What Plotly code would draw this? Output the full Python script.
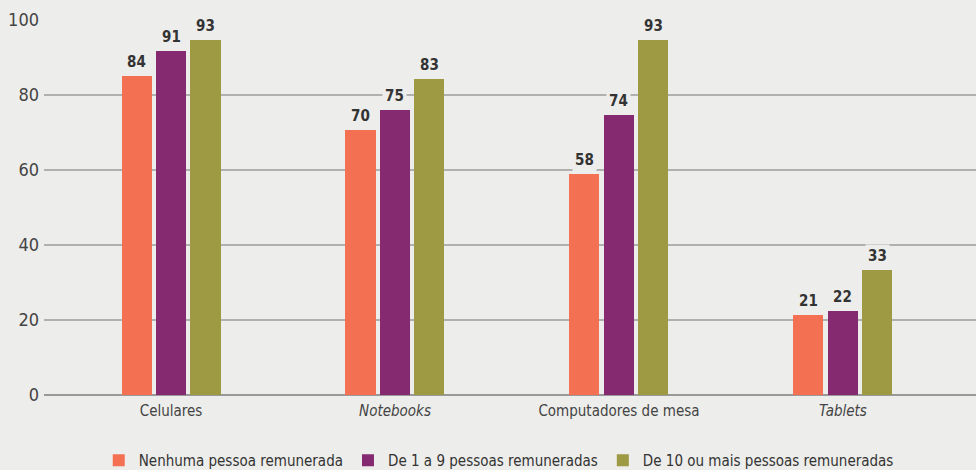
import plotly.graph_objects as go

categorias = ["Celulares", "<i>Notebooks</i>", "Computadores de mesa", "<i>Tablets</i>"]
series = ["Nenhuma pessoa remunerada", "De 1 a 9 pessoas remuneradas", "De 10 ou mais pessoas remuneradas"]
cores = ["#f47053", "#852a71", "#9e9943"]

# bar heights as drawn in the picture
alturas_nenhuma = [85.1, 70.7, 59.0, 21.4]
alturas_1a9 = [91.8, 76.1, 74.7, 22.5]
alturas_10mais = [94.7, 84.3, 94.7, 33.4]
# printed value labels
rotulos_nenhuma = ["84", "70", "58", "21"]
rotulos_1a9 = ["91", "75", "74", "22"]
rotulos_10mais = ["93", "83", "93", "33"]

y_ticks = [0, 20, 40, 60, 80, 100]

alturas = [alturas_nenhuma, alturas_1a9, alturas_10mais]
rotulos = [rotulos_nenhuma, rotulos_1a9, rotulos_10mais]

FONT = "DejaVu Sans Condensed, Liberation Sans Narrow, Roboto, sans-serif"
BG = "#ededeb"
slot = 0.154
bar_w = 0.134
idx = list(range(len(categorias)))

fig = go.Figure()
annotations = []
for k in range(3):
    xs = [i + (k - 1) * slot for i in idx]
    fig.add_trace(go.Bar(
        x=xs, y=alturas[k], width=bar_w, name=series[k],
        marker=dict(color=cores[k], line=dict(width=0)),
        hoverinfo="skip",
    ))
    for x, h, t in zip(xs, alturas[k], rotulos[k]):
        annotations.append(dict(
            x=x, y=h, text="<b>" + t + "</b>", showarrow=False,
            yanchor="bottom", xanchor="center", yshift=2,
            bgcolor=BG, borderpad=2,
            font=dict(family=FONT, size=15, color="#333333"),
        ))

xrange = [-0.567, 3.594]
fig.update_layout(
    width=976, height=470,
    margin=dict(l=44, r=0, t=20, b=75),
    paper_bgcolor=BG, plot_bgcolor=BG,
    showlegend=True,
    legend=dict(orientation="h", xref="container", yref="container",
                x=0.511, xanchor="center", y=0.02, yanchor="middle",
                font=dict(family=FONT, size=15, color="#333333"),
                itemwidth=30, traceorder="normal", bgcolor="rgba(0,0,0,0)"),
    annotations=annotations,
    xaxis=dict(range=xrange, tickmode="array", tickvals=idx, ticktext=categorias,
               showgrid=False, zeroline=False, showline=False, ticks="",
               ticklabelstandoff=5,
               tickfont=dict(family=FONT, size=15, color="#444444"), fixedrange=True),
    xaxis2=dict(range=xrange, overlaying="x", anchor="free", position=0.0133, side="bottom",
                tickmode="array", tickvals=[0.5, 1.5, 2.5], showticklabels=False,
                ticks="outside", ticklen=15, tickwidth=1.5, tickcolor="#a0a0a0",
                showgrid=False, zeroline=False, showline=False),
    yaxis=dict(range=[0, 100], tickmode="array", tickvals=y_ticks,
               showgrid=True, gridcolor="#b0b0b0", gridwidth=1.5,
               zeroline=True, zerolinecolor="#999999", zerolinewidth=1.5,
               ticks="", ticklabelstandoff=4,
               tickfont=dict(family=FONT, size=18, color="#444444"), fixedrange=True),
    bargap=0,
)
fig.write_html("out.html", config={"displayModeBar": False},
               post_script="document.body.style.margin='0';")
